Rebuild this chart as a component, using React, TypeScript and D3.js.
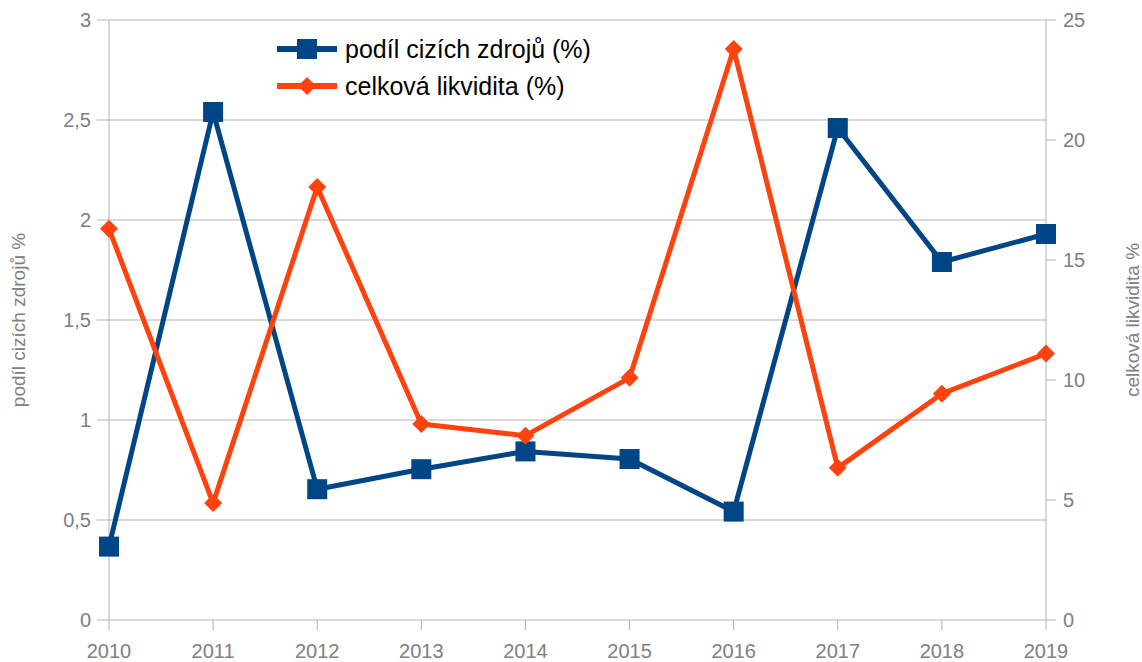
import * as d3 from "d3";

const years = ["2010", "2011", "2012", "2013", "2014", "2015", "2016", "2017", "2018", "2019"];
const podilCizichZdroju = [0.367, 2.54, 0.654, 0.754, 0.843, 0.805, 0.542, 2.46, 1.79, 1.93];
const celkovaLikvidita = [16.3, 4.87, 18.04, 8.17, 7.68, 10.09, 23.79, 6.34, 9.43, 11.1];
const leftTicks = [0, 0.5, 1, 1.5, 2, 2.5, 3];
const rightTicks = [0, 5, 10, 15, 20, 25];

const blue = "#004586";
const orange = "#ff420e";
const grid = "#b3b3b3";
const tickText = "#808080";
const font = "'Liberation Sans', Arial, sans-serif";

const fmt = (v: number) => String(v).replace(".", ",");

export default function App() {
  const width = 1142;
  const height = 662;
  const left = 109;
  const right = 1046;
  const top = 20;
  const bottom = 620;

  const x = d3.scalePoint<string>().domain(years).range([left, right]);
  const yL = d3.scaleLinear().domain([0, 3]).range([bottom, top]);
  const yR = d3.scaleLinear().domain([0, 25]).range([bottom, top]);

  const lineL = d3.line<number>().x((_, i) => x(years[i])!).y((d) => yL(d));
  const lineR = d3.line<number>().x((_, i) => x(years[i])!).y((d) => yR(d));

  const diamond = (cx: number, cy: number, r: number) =>
    `M${cx},${cy - r}L${cx + r},${cy}L${cx},${cy + r}L${cx - r},${cy}Z`;

  return (
    <svg
      width={width}
      height={height}
      style={{ position: "absolute", left: 0, top: 0, fontFamily: font }}
    >
      <rect width={width} height={height} fill="#fff" />
      {leftTicks.map((t) => (
        <g key={t}>
          <line x1={left - 12} x2={right} y1={yL(t)} y2={yL(t)} stroke={grid} strokeWidth={1} />
          <text x={left - 18} y={yL(t)} dy="0.35em" textAnchor="end" fontSize={20} fill={tickText}>
            {fmt(t)}
          </text>
        </g>
      ))}
      {rightTicks.map((t) => (
        <g key={t}>
          <line x1={right} x2={right + 10} y1={yR(t)} y2={yR(t)} stroke={grid} strokeWidth={1} />
          <text x={right + 17} y={yR(t)} dy="0.35em" textAnchor="start" fontSize={20} fill={tickText}>
            {t}
          </text>
        </g>
      ))}
      <line x1={left} x2={left} y1={top} y2={bottom} stroke={grid} />
      <line x1={right} x2={right} y1={top} y2={bottom} stroke={grid} />
      {years.map((yr) => (
        <g key={yr}>
          <line x1={x(yr)} x2={x(yr)} y1={bottom} y2={bottom + 10} stroke={grid} />
          <text x={x(yr)} y={bottom + 38} textAnchor="middle" fontSize={20} fill={tickText}>
            {yr}
          </text>
        </g>
      ))}
      <text
        transform={`translate(25, ${(top + bottom) / 2}) rotate(-90)`}
        textAnchor="middle"
        fontSize={19}
        fill={tickText}
      >
        podíl cizích zdrojů %
      </text>
      <text
        transform={`translate(1139, ${(top + bottom) / 2}) rotate(-90)`}
        textAnchor="middle"
        fontSize={19}
        fill={tickText}
      >
        celková likvidita %
      </text>

      <path d={lineL(podilCizichZdroju) ?? undefined} fill="none" stroke={blue} strokeWidth={5} strokeLinejoin="round" />
      {podilCizichZdroju.map((v, i) => (
        <rect key={i} x={x(years[i])! - 10} y={yL(v) - 10} width={20} height={20} fill={blue} />
      ))}
      <path d={lineR(celkovaLikvidita) ?? undefined} fill="none" stroke={orange} strokeWidth={5} strokeLinejoin="round" />
      {celkovaLikvidita.map((v, i) => (
        <path key={i} d={diamond(x(years[i])!, yR(v), 9)} fill={orange} />
      ))}

      <g>
        <line x1={277} x2={337} y1={49} y2={49} stroke={blue} strokeWidth={6} />
        <rect x={297} y={39} width={20} height={20} fill={blue} />
        <text x={345} y={49} dy="0.35em" fontSize={25} fill="#000">
          podíl cizích zdrojů (%)
        </text>
        <line x1={277} x2={337} y1={86} y2={86} stroke={orange} strokeWidth={6} />
        <path d={diamond(307, 86, 9)} fill={orange} />
        <text x={345} y={86} dy="0.35em" fontSize={25} fill="#000">
          celková likvidita (%)
        </text>
      </g>
    </svg>
  );
}
